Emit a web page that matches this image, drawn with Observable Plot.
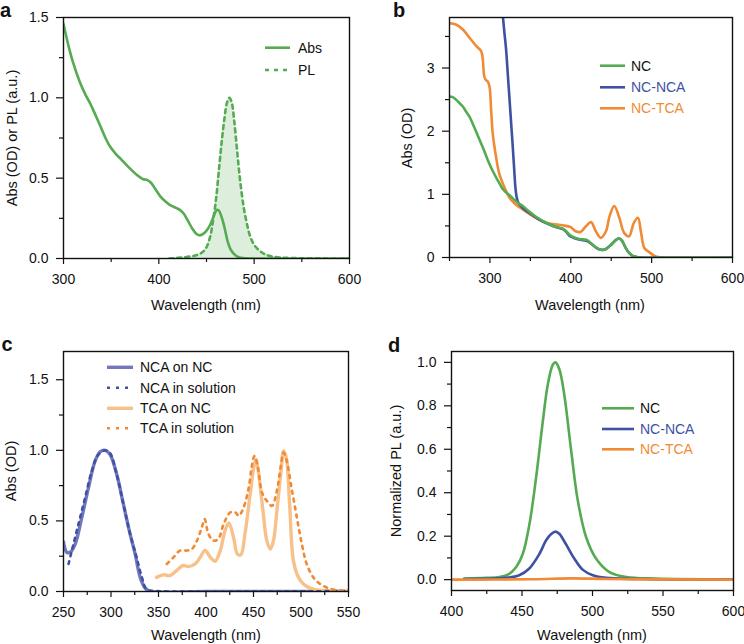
<!DOCTYPE html>
<html><head><meta charset="utf-8">
<script src="https://cdn.jsdelivr.net/npm/d3@7"></script>
<script src="https://cdn.jsdelivr.net/npm/@observablehq/plot@0.6"></script>
<style>
body{margin:0;background:#fff;}
#wrap{position:relative;width:744px;height:644px;overflow:hidden;font-family:"Liberation Sans",Arial,Helvetica,sans-serif;color:#111;}
.p{position:absolute;}
.lab{position:absolute;font-weight:bold;font-size:20px;line-height:20px;}
.xt{position:absolute;font-size:14.5px;white-space:nowrap;transform:translate(-50%,-50%);line-height:16px;}
.yt{position:absolute;font-size:14.5px;white-space:nowrap;transform:translate(-50%,-50%) rotate(-90deg);line-height:16px;}
#leg{position:absolute;left:0;top:0;pointer-events:none;}
</style></head>
<body><div id="wrap"></div>
<script>
// ---------- colours ----------
const GREEN = "#55ab52", BLUE = "#3e51a2", ORANGE = "#f08a35";
const LBLUE = "#7378bd", LORANGE = "#f8c18c";

// ---------- panel a ----------
const aAbs = [[300,1.46],[305,1.33],[310,1.22],[317,1.10],[323,1.02],[328,0.965],[333,0.90],[339,0.82],[344,0.75],[349,0.695],[355,0.65],[360,0.62],[368,0.57],[377,0.52],[383,0.495],[388,0.488],[392,0.47],[396,0.435],[402,0.384],[407,0.355],[412,0.332],[418,0.315],[422,0.303],[426,0.28],[430,0.24],[435,0.187],[439,0.155],[442,0.145],[445,0.148],[449,0.166],[453,0.2],[456,0.24],[459,0.285],[461,0.303],[463,0.298],[466,0.255],[469,0.19],[472,0.11],[475,0.06],[479,0.027],[483,0.01],[488,0.003],[495,0],[600,0]];
const aPL = [[411,0.0],[420,0.004],[430,0.01],[440,0.022],[446,0.04],[450,0.07],[454,0.14],[457,0.24],[460,0.37],[463,0.55],[466,0.73],[469,0.88],[471.5,0.97],[474,1.0],[476.5,0.97],[479,0.86],[482,0.68],[485,0.5],[489,0.32],[493,0.2],[496,0.135],[500,0.085],[505,0.052],[510,0.03],[517,0.015],[527,0.006],[540,0.003],[560,0.001],[600,0]];
const aLegend = ["Abs","PL"];

// ---------- panel b ----------
const bNC = [[250,2.55],[254,2.54],[258,2.50],[262,2.45],[266.5,2.39],[270,2.32],[274.7,2.23],[279,2.11],[283,1.99],[287,1.87],[291,1.75],[295,1.62],[299.4,1.48],[303.5,1.37],[307.6,1.27],[312,1.17],[316,1.08],[320,1.03],[324,0.99],[328,0.94],[332,0.895],[336,0.855],[340.6,0.815],[347,0.745],[353,0.68],[361,0.61],[369.4,0.55],[378,0.5],[386,0.47],[390,0.455],[394,0.42],[398,0.365],[402,0.33],[406,0.31],[412,0.29],[419,0.28],[423,0.25],[427,0.2],[431,0.16],[435,0.13],[439,0.12],[443,0.13],[447.6,0.176],[452,0.23],[456,0.28],[460,0.3],[463,0.27],[466,0.2],[468,0.15],[471,0.09],[476.5,0.027],[481,0.008],[485,0],[600,0]];
const bNCA = [[313,4.3],[316,3.82],[318,3.55],[320,3.29],[322,2.92],[324,2.55],[326,2.17],[328,1.80],[330,1.40],[331.5,1.11],[333,0.96],[335,0.87],[338,0.82],[341,0.78],[347,0.72],[353,0.67],[361,0.6],[369.4,0.545],[378,0.5],[386,0.465],[390,0.45],[394,0.41],[398,0.35],[402,0.32],[406,0.3],[412,0.28],[419,0.265],[423,0.24],[427,0.2],[431,0.16],[435,0.13],[439,0.12],[443,0.13],[447.6,0.176],[452,0.23],[456,0.28],[460,0.3],[463,0.27],[466,0.2],[468,0.15],[471,0.09],[476.5,0.027],[481,0.008],[485,0],[600,0]];
const bTCA = [[250,3.71],[258,3.69],[266.5,3.61],[274.7,3.48],[283,3.35],[289,3.27],[291,3.16],[293,2.87],[295,2.81],[297,2.79],[299.4,2.71],[301.5,2.33],[303.5,1.96],[307.6,1.59],[311.7,1.32],[318,1.11],[324,0.95],[332,0.84],[340.6,0.76],[353,0.655],[369.4,0.55],[377.6,0.53],[390,0.51],[400,0.48],[406,0.415],[412,0.405],[418.8,0.495],[425,0.56],[431,0.415],[437,0.31],[443.5,0.415],[448,0.655],[453.8,0.815],[460,0.63],[466,0.39],[472,0.335],[478,0.55],[483,0.63],[487,0.39],[491,0.15],[497,0.085],[505,0.016],[513.5,0],[600,0]];
const bLegend = ["NC","NC-NCA","NC-TCA"];

// ---------- panel c ----------
const cNCAonNC = [[250,0.35],[253.5,0.278],[257,0.278],[262.3,0.336],[269.3,0.525],[276.3,0.736],[283.3,0.925],[288.6,0.99],[293.9,1.0],[299,0.97],[306,0.83],[313,0.62],[320,0.41],[325.4,0.266],[330.7,0.10],[336,0.024],[341,0.002],[400,0.001],[550,0.001]];
const cNCAsol = [[255.3,0.195],[258.8,0.29],[265.8,0.478],[272.8,0.666],[279.8,0.854],[286.8,0.97],[294,1.0],[299,0.98],[306,0.83],[313,0.62],[320,0.41],[327,0.24],[332.5,0.10],[337.7,0.012],[344.7,0.004],[550,0.004]];
const cTCAonNC = [[348,0.10],[355,0.118],[362,0.113],[369,0.148],[376,0.184],[381.4,0.176],[388.6,0.195],[393.9,0.242],[399,0.29],[404.6,0.242],[409.6,0.214],[415,0.29],[420,0.43],[424,0.485],[429,0.384],[433,0.266],[436.7,0.26],[441,0.407],[446.5,0.69],[450.9,0.90],[452.6,0.936],[455,0.854],[460,0.57],[464,0.36],[467.7,0.30],[471,0.36],[474.6,0.57],[479,0.854],[481.6,0.995],[484.5,0.948],[488,0.62],[492,0.219],[497.4,0.10],[502.6,0.054],[509.6,0.024],[520,0.007],[550,0.002]];
const cTCAsol = [[358.8,0.195],[365.8,0.242],[372.8,0.29],[379.8,0.29],[385,0.30],[390.5,0.36],[395.6,0.454],[398.6,0.513],[402.6,0.407],[408,0.36],[413,0.372],[418.6,0.478],[425.6,0.56],[431,0.56],[434.4,0.536],[439.6,0.595],[445,0.736],[448,0.878],[451,0.96],[454.6,0.878],[459,0.70],[464,0.642],[469.5,0.607],[474.6,0.713],[479,0.90],[481.6,0.984],[485,0.925],[490,0.736],[495.6,0.525],[500.9,0.336],[506,0.195],[513,0.10],[520,0.054],[530.7,0.019],[550,0.0]];
const cLegend = ["NCA on NC","NCA in solution","TCA on NC","TCA in solution"];

// ---------- panel d ----------
const dNC = [[409,0.005],[424.6,0.008],[434,0.012],[441,0.027],[445.9,0.058],[450.6,0.119],[455.3,0.256],[460,0.47],[464.8,0.73],[468.3,0.898],[471.9,0.99],[473.8,1.0],[476.6,0.966],[480,0.85],[484.9,0.592],[489.6,0.363],[495.5,0.195],[502.6,0.096],[512,0.035],[523.9,0.012],[545,0.005],[600,0.001]];
const dNCA = [[409,0.003],[438.8,0.008],[448,0.02],[455,0.05],[462.4,0.119],[467,0.18],[470.7,0.21],[473.8,0.221],[476.6,0.21],[481,0.165],[487.2,0.096],[493,0.046],[500.2,0.02],[509.7,0.008],[533,0.003],[600,0.0]];
const dTCA = [[400,0.0],[457.7,0.002],[486,0.006],[510,0.003],[600,0.0]];
const dLegend = ["NC","NC-NCA","NC-TCA"];

// ---------- axes ----------
const axA = {xMajor:[300,400,500,600], xMinor:[350,450,550], yMajor:[0,0.5,1.0,1.5], yMinor:[0.25,0.75,1.25]};
const axB = {xMajor:[300,400,500,600], xMinor:[250,350,450,550], yMajor:[0,1,2,3], yMinor:[0.5,1.5,2.5,3.5]};
const axC = {xMajor:[250,300,350,400,450,500,550], xMinor:[275,325,375,425,475,525], yMajor:[0,0.5,1.0,1.5], yMinor:[0.25,0.75,1.25]};
const axD = {xMajor:[400,450,500,550,600], xMinor:[425,475,525,575], yMajor:[0,0.2,0.4,0.6,0.8,1.0], yMinor:[0.1,0.3,0.5,0.7,0.9]};

const wrap = document.getElementById("wrap");
const FONT = "'Liberation Sans', Arial, Helvetica, sans-serif";

function line(data, stroke, extra = {}) {
  return Plot.line(data, {x: d => d[0], y: d => d[1], stroke, strokeWidth: 2.4, curve: "catmull-rom", clip: true, ...extra});
}

function panel(cfg) {
  const {left, top, width, height, m, xDomain, yDomain, ax, yFmt, marks} = cfg;
  const svg = Plot.plot({
    width, height,
    marginLeft: m[0], marginRight: m[1], marginTop: m[2], marginBottom: m[3],
    x: {domain: xDomain, label: null},
    y: {domain: yDomain, label: null},
    style: {fontFamily: FONT, fontSize: "14px", color: "#111", background: "transparent", overflow: "visible"},
    marks: [
      ...marks,
      Plot.axisX({ticks: ax.xMajor, tickSize: 6, tickPadding: 10, tickFormat: d => String(d), label: null, strokeWidth: 1.2, fontSize: 14}),
      Plot.axisX({ticks: ax.xMinor, tickSize: 4, tickFormat: () => "", label: null, strokeWidth: 1.2}),
      Plot.axisY({ticks: ax.yMajor, tickSize: 7, tickPadding: 8, tickFormat: yFmt, label: null, strokeWidth: 1.2, fontSize: 14}),
      Plot.axisY({ticks: ax.yMinor, tickSize: 4, tickFormat: () => "", label: null, strokeWidth: 1.2}),
      Plot.frame({stroke: "#111", strokeWidth: 1.4})
    ]
  });
  svg.classList.add("p");
  svg.style.left = left + "px";
  svg.style.top = top + "px";
  wrap.appendChild(svg);
}

function addDiv(cls, text, x, y) {
  const d = document.createElement("div");
  d.className = cls; d.textContent = text;
  d.style.left = x + "px"; d.style.top = y + "px";
  wrap.appendChild(d);
}

// panel a
panel({left: 0, top: 0, width: 372, height: 310, m: [63, 23, 17, 52], xDomain: [300, 600], yDomain: [0, 1.5], ax: axA, yFmt: d3.format(".1f"),
  marks: [
    Plot.areaY(aPL, {x: d => d[0], y: d => d[1], fill: GREEN, fillOpacity: 0.2, curve: "catmull-rom", clip: true}),
    line(aPL, GREEN, {strokeDasharray: "4,4", strokeWidth: 2.6}),
    line(aAbs, GREEN, {strokeWidth: 2.6})
  ]});
// panel b
panel({left: 372, top: 0, width: 372, height: 310, m: [77, 12, 17, 53], xDomain: [250, 600], yDomain: [0, 3.8], ax: axB, yFmt: d3.format("d"),
  marks: [line(bTCA, ORANGE, {strokeWidth: 2.6}), line(bNCA, BLUE, {strokeWidth: 2.6}), line(bNC, GREEN, {strokeWidth: 2.6})]});
// panel c
panel({left: 0, top: 310, width: 372, height: 334, m: [63, 24, 41, 53], xDomain: [250, 550], yDomain: [0, 1.7], ax: axC, yFmt: d3.format(".1f"),
  marks: [
    line(cNCAonNC, LBLUE, {strokeWidth: 3.4}),
    line(cTCAonNC, LORANGE, {strokeWidth: 3.4}),
    line(cNCAsol, BLUE, {strokeDasharray: "3,5", strokeWidth: 2.6}),
    line(cTCAsol, ORANGE, {strokeDasharray: "3,5", strokeWidth: 2.6})
  ]});
// panel d
panel({left: 372, top: 310, width: 372, height: 334, m: [79, 11, 41, 54], xDomain: [400, 600], yDomain: [-0.05, 1.05], ax: axD, yFmt: d3.format(".1f"),
  marks: [line(dNC, GREEN, {strokeWidth: 2.6}), line(dNCA, BLUE, {strokeWidth: 2.6}), line(dTCA, ORANGE, {strokeWidth: 2.6})]});

// panel letters
addDiv("lab", "a", 0, 0);
addDiv("lab", "b", 393, 0);
addDiv("lab", "c", 1.5, 334);
addDiv("lab", "d", 388, 335);

// axis titles
addDiv("xt", "Wavelength (nm)", 206, 305);
addDiv("xt", "Wavelength (nm)", 590, 305);
addDiv("xt", "Wavelength (nm)", 206, 635);
addDiv("xt", "Wavelength (nm)", 592, 635);
addDiv("yt", "Abs (OD) or PL (a.u.)", 12, 138);
addDiv("yt", "Abs (OD)", 407, 137.5);
addDiv("yt", "Abs (OD)", 11, 471);
addDiv("yt", "Normalized PL (a.u.)", 396, 470.5);

// legends
const NS = "http://www.w3.org/2000/svg";
const leg = document.createElementNS(NS, "svg");
leg.setAttribute("id", "leg"); leg.setAttribute("width", 744); leg.setAttribute("height", 644);
wrap.appendChild(leg);
function legend(names, styles, x0, x1, tx, ys) {
  names.forEach((name, i) => {
    const s = styles[i];
    const l = document.createElementNS(NS, "line");
    l.setAttribute("x1", x0); l.setAttribute("x2", x1); l.setAttribute("y1", ys[i]); l.setAttribute("y2", ys[i]);
    l.setAttribute("stroke", s.stroke); l.setAttribute("stroke-width", s.w || 2.6);
    if (s.dash) l.setAttribute("stroke-dasharray", s.dash);
    leg.appendChild(l);
    const t = document.createElementNS(NS, "text");
    t.setAttribute("x", tx); t.setAttribute("y", ys[i]); t.setAttribute("dy", "0.35em");
    t.setAttribute("font-family", FONT); t.setAttribute("font-size", "14");
    t.setAttribute("fill", s.text || "#111");
    t.textContent = name;
    leg.appendChild(t);
  });
}
legend(aLegend, [{stroke: GREEN}, {stroke: GREEN, dash: "4,5"}], 265, 290, 298, [47.7, 70]);
legend(bLegend, [{stroke: GREEN}, {stroke: BLUE, text: BLUE}, {stroke: ORANGE, text: ORANGE}], 600, 625, 631, [65.7, 87.3, 108.3]);
legend(cLegend, [{stroke: LBLUE, w: 3.4}, {stroke: BLUE, dash: "3,6"}, {stroke: LORANGE, w: 3.4}, {stroke: ORANGE, dash: "3,6"}], 107, 133, 140, [367.3, 387.7, 408.3, 428.3]);
legend(dLegend, [{stroke: GREEN}, {stroke: BLUE, text: BLUE}, {stroke: ORANGE, text: ORANGE}], 602, 634, 640, [408.3, 429, 449.3]);
</script>
</body></html>
